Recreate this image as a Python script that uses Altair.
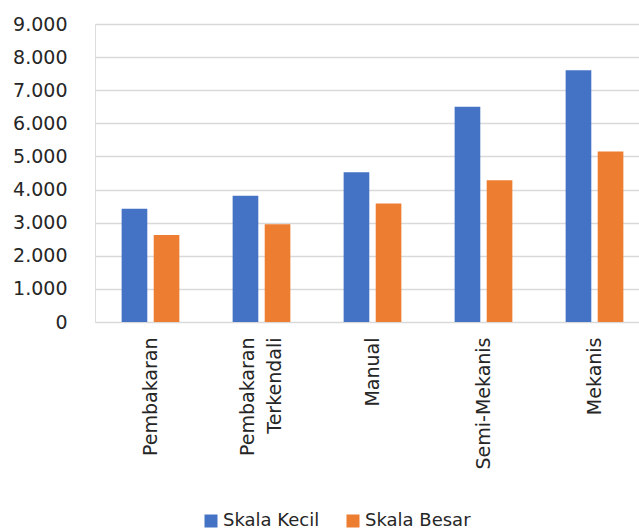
import altair as alt
import pandas as pd

categories = ["Pembakaran", "Pembakaran Terkendali", "Manual", "Semi-Mekanis", "Mekanis"]
series = ["Skala Kecil", "Skala Besar"]
skala_kecil = [3420, 3810, 4520, 6500, 7600]
skala_besar = [2630, 2950, 3580, 4280, 5150]
y_ticks = [0, 1000, 2000, 3000, 4000, 5000, 6000, 7000, 8000, 9000]

rows = []
for c, a, b in zip(categories, skala_kecil, skala_besar):
    rows.append({"kategori": c, "seri": series[0], "nilai": a})
    rows.append({"kategori": c, "seri": series[1], "nilai": b})
df = pd.DataFrame(rows)

FONT = "DejaVu Sans"
TXT = "#262626"

chart = alt.Chart(df).mark_bar(stroke=None).encode(
    x=alt.X("kategori:N", sort=categories,
            scale=alt.Scale(range=[0, 555], paddingInner=0.48, paddingOuter=0.24),
            axis=alt.Axis(title=None, labelAngle=-90, ticks=False, domain=False,
                          labelPadding=15, labelFontSize=19, labelFont=FONT,
                          labelColor=TXT, labelLineHeight=27,
                          labelOffset={"condition": {"test": "datum.value == 'Pembakaran Terkendali'", "value": -14}, "value": 0},
                          labelExpr="datum.label == 'Pembakaran Terkendali' ? ['Pembakaran', 'Terkendali'] : datum.label")),
    xOffset=alt.XOffset("seri:N", sort=series,
                        scale=alt.Scale(paddingInner=0.2, paddingOuter=0)),
    y=alt.Y("nilai:Q", scale=alt.Scale(domain=[0, 9000], nice=False),
            axis=alt.Axis(title=None, values=y_ticks, ticks=False, domain=False,
                          labelPadding=28, labelFontSize=19, labelFont=FONT,
                          labelColor=TXT, gridColor="#D9D9D9", gridWidth=1.5,
                          labelExpr="replace(format(datum.value, ',d'), ',', '.')")),
    color=alt.Color("seri:N", sort=series,
                    scale=alt.Scale(domain=series, range=["#4472C4", "#ED7D31"]),
                    legend=alt.Legend(title=None, orient="none", legendX=107, legendY=488,
                                      direction="horizontal", symbolType="square",
                                      symbolSize=169, symbolStrokeWidth=0,
                                      labelFontSize=18, labelFont=FONT, labelColor=TXT,
                                      labelOffset=3, columnPadding=24)),
).properties(
    width=544, height=298,
    autosize=alt.AutoSizeParams(type="none"),
    padding={"left": 95, "top": 24, "right": 0, "bottom": 210},
).configure_view(stroke=None).configure(background="white")

chart.save("out.html", embed_options={"renderer": "svg", "actions": False})
